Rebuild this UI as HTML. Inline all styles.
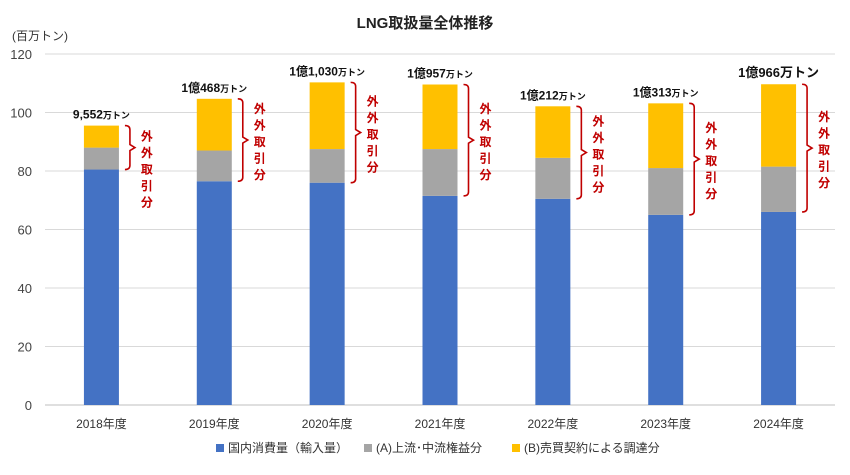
<!DOCTYPE html>
<html><head><meta charset="utf-8"><style>
body{margin:0;background:#fff;}
svg{display:block;font-family:"Liberation Sans","Noto Sans CJK JP",sans-serif;}
</style></head><body>
<svg id="c" width="850" height="475">
<text x="425" y="28" text-anchor="middle" font-size="15" font-weight="bold" fill="#222">LNG取扱量全体推移</text>
<text x="12" y="40" font-size="12" fill="#333">(百万トン)</text>
<g id="grid"></g><g id="bars"></g>
<g font-size="12" fill="#333">
<rect x="216" y="444" width="8" height="8" fill="#4472C4"/>
<text x="228" y="452">国内消費量（輸入量）</text>
<rect x="364" y="444" width="8" height="8" fill="#A5A5A5"/>
<text x="376" y="452">(A)上流･中流権益分</text>
<rect x="512" y="444" width="8" height="8" fill="#FFC000"/>
<text x="524" y="452">(B)売買契約による調達分</text>
</g>
</svg>
<script>
const categories=["2018年度","2019年度","2020年度","2021年度","2022年度","2023年度","2024年度"];
const domestic=[80.5,76.5,76,71.5,70.5,65,66];
const upstream=[7.5,10.5,11.5,16,14,16,15.5];
const contract=[7.52,17.68,22.8,22.07,17.62,22.13,28.16];
const totalLabels=["9,552","1億468","1億1,030","1億957","1億212","1億313","1億966"];
const yTicks=[0,20,40,60,80,100,120];
const NS="http://www.w3.org/2000/svg";
const y=v=>405-v*2.925;
const x0=45,x1=835,band=(x1-x0)/categories.length;
const xc=i=>x0+band*(i+0.5);
const grid=document.getElementById('grid'),bars=document.getElementById('bars');
function mk(tag,attrs,parent,txt){const e=document.createElementNS(NS,tag);for(const k in attrs)e.setAttribute(k,attrs[k]);if(txt!=null)e.textContent=txt;parent.appendChild(e);return e;}
yTicks.forEach(t=>{
 const l=mk('line',{x1:x0,x2:x1,y1:y(t),y2:y(t),stroke:t===0?'#bfbfbf':'#d9d9d9','stroke-width':1},grid);
 
 
 const tx=mk('text',{x:32,y:y(t)+5,'text-anchor':'end','font-size':13,fill:'#444'},grid,t);
 
 
});
const bw=35;
categories.forEach((c,i)=>{
 const cx=xc(i),bx=cx-bw/2;
 const a=domestic[i],b=a+upstream[i],tot=b+contract[i];
 const r1=mk('rect',{x:bx,y:y(a),width:bw,height:y(0)-y(a),fill:'#4472C4'},bars);
 
 
 const r2=mk('rect',{x:bx,y:y(b),width:bw,height:y(a)-y(b),fill:'#A5A5A5'},bars);
 
 
 const r3=mk('rect',{x:bx,y:y(tot),width:bw,height:y(b)-y(tot),fill:'#FFC000'},bars);
 
 
 const xl=mk('text',{x:cx,y:428,'text-anchor':'middle','font-size':12,fill:'#333'},bars,c);
 
 
 const big=i===6;
 const tl=mk('text',{x:cx,y:y(tot)-7,'text-anchor':'middle','font-size':big?13:12,'font-weight':'bold',fill:'#111'},bars);
 
 
 mk('tspan',{},tl,totalLabels[i]);
 mk('tspan',{'font-size':big?13:9},tl,'万トン');
 const bxr=bx+bw+6,top=y(tot),bot=y(a),mid=(top+bot)/2;
 const br=mk('path',{d:`M${bxr} ${top} Q${bxr+5} ${top} ${bxr+5} ${top+4} L${bxr+5} ${mid-3} L${bxr+10} ${mid} L${bxr+5} ${mid+3} L${bxr+5} ${bot-4} Q${bxr+5} ${bot} ${bxr} ${bot}`,fill:'none',stroke:'#C00000','stroke-width':1.6},bars);
 
 
 const g=mk('g',{},bars);
 
 
 const chars="外外取引分".split('');
 const ty=i===0?mid-7:mid-27;
 chars.forEach((ch,k)=>mk('text',{x:bxr+22,y:ty+k*16.5,'text-anchor':'middle','font-size':12,'font-weight':'bold',fill:'#C00000'},g,ch));
});
</script>
</body></html>
